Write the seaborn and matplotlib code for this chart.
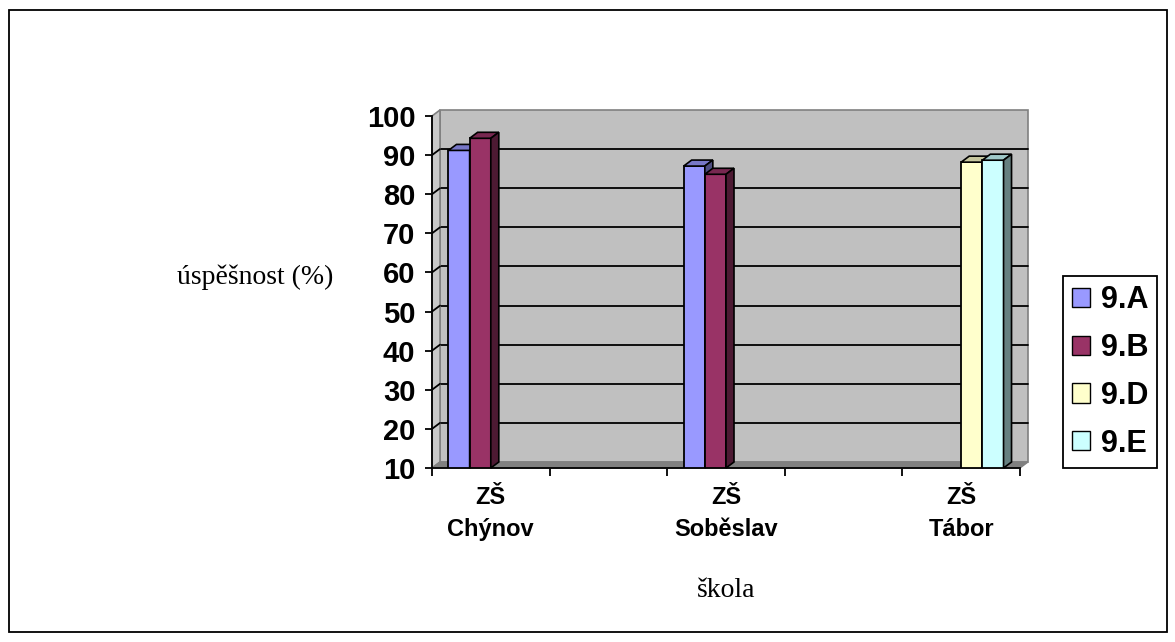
import numpy as np
import pandas as pd
import matplotlib
matplotlib.use("Agg")
import matplotlib.pyplot as plt
import seaborn as sns
from matplotlib.patches import Polygon, Rectangle, Patch
from matplotlib.colors import to_rgb

# ---------------- data ----------------
skoly = ["ZŠ\nChýnov", "", "ZŠ\nSoběslav", " ", "ZŠ\nTábor"]
tridy = ["9.A", "9.B", "9.D", "9.E"]
hodnoty_9A = [91.2, None, 87.2, None, None]
hodnoty_9B = [94.3, None, 85.1, None, None]
hodnoty_9D = [None, None, None, None, 88.2]
hodnoty_9E = [None, None, None, None, 88.7]
barvy = ["#9999FF", "#993366", "#FFFFCC", "#CCFFFF"]
y_ticks = [10, 20, 30, 40, 50, 60, 70, 80, 90, 100]

rows = []
for trida, vals in zip(tridy, [hodnoty_9A, hodnoty_9B, hodnoty_9D, hodnoty_9E]):
    for skola, v in zip(skoly, vals):
        if v is not None:
            rows.append({"skola": skola, "trida": trida, "uspesnost": v})
df = pd.DataFrame(rows)

sns.set_theme(style="white")
plt.rcParams["font.family"] = ["Liberation Sans", "DejaVu Sans"]
for k in ["text.color", "axes.labelcolor", "xtick.color", "ytick.color"]:
    plt.rcParams[k] = "black"

W, H = 1175, 642
fig = plt.figure(figsize=(W / 100, H / 100), dpi=100)
fig.patch.set_facecolor("white")
ax = fig.add_axes([432 / W, 1 - 468 / H, 588 / W, 352 / H])
ax.set_facecolor("none")

sns.barplot(data=df, x="skola", y="uspesnost", hue="trida", order=skoly,
            hue_order=tridy, palette=dict(zip(tridy, barvy)), width=0.72,
            saturation=1, edgecolor="black", linewidth=1.3, errorbar=None,
            legend=False, ax=ax)
bars = [p for p in ax.patches if np.isfinite(p.get_height()) and p.get_height() > 0]

ax.set_xlim(-0.5, 4.5)
ax.set_ylim(10, 100)

# 3D depth offsets (pixels -> data units)
pos = ax.get_position()
dx_px, dy_px = 8, 6
dxd = dx_px / (pos.width * W / 5.0)
dyd = dy_px / (pos.height * H / 90.0)

# back wall
ax.add_patch(Rectangle((-0.5 + dxd, 10 + dyd), 5, 90, fc="#C0C0C0", ec="#808080",
                       lw=1.2, zorder=0, clip_on=False))
for v in y_ticks[1:-1]:
    ax.plot([-0.5 + dxd, 4.5 + dxd], [v + dyd, v + dyd], color="black", lw=1.3,
            zorder=0.5, clip_on=False)
# left wall
ax.add_patch(Polygon([(-0.5, 10), (-0.5, 100), (-0.5 + dxd, 100 + dyd), (-0.5 + dxd, 10 + dyd)],
                     closed=True, fc="#C8C8C8", ec="#808080", lw=1.2, zorder=0.6, clip_on=False))
for v in y_ticks[1:-1]:
    ax.plot([-0.5, -0.5 + dxd], [v, v + dyd], color="black", lw=1.3, zorder=0.7, clip_on=False)
# floor
ax.add_patch(Polygon([(-0.5, 10), (4.5, 10), (4.5 + dxd, 10 + dyd), (-0.5 + dxd, 10 + dyd)],
                     closed=True, fc="#808080", ec="#808080", lw=1.0, zorder=0.8, clip_on=False))

# 3D faces of bars
bars = sorted(bars, key=lambda p: p.get_x())
for i, p in enumerate(bars):
    x0 = p.get_x()
    x1 = x0 + p.get_width()
    h = p.get_height()
    c = np.array(to_rgb(p.get_facecolor()))
    p.set_zorder(5 + 2 * i)
    top = Polygon([(x0, h), (x1, h), (x1 + dxd, h + dyd), (x0 + dxd, h + dyd)], closed=True,
                  fc=c * 0.78, ec="black", lw=1.2, zorder=6 + 2 * i, clip_on=False)
    side = Polygon([(x1, 10), (x1, h), (x1 + dxd, h + dyd), (x1 + dxd, 10 + dyd)], closed=True,
                   fc=c * 0.5, ec="black", lw=1.2, zorder=6 + 2 * i, clip_on=False)
    ax.add_patch(top)
    ax.add_patch(side)

# axes styling
for s in ["top", "right"]:
    ax.spines[s].set_visible(False)
for s in ["left", "bottom"]:
    ax.spines[s].set_color("black")
    ax.spines[s].set_linewidth(1.3)
    ax.spines[s].set_zorder(20)

ax.set_xticks(np.arange(-0.5, 5.0, 1.0))
ax.set_xticklabels([""] * 6)
ax.set_xticks(np.arange(5), minor=True)
ax.set_xticklabels(skoly, minor=True, fontsize=17, fontweight="bold", linespacing=1.5)
ax.tick_params(axis="x", which="major", length=6, width=1.3, color="black", direction="out", bottom=True)
ax.tick_params(axis="x", which="minor", length=0, pad=13, bottom=True)

ax.set_yticks(y_ticks)
ax.set_yticklabels([str(v) for v in y_ticks], fontsize=21, fontweight="bold")
ax.tick_params(axis="y", which="major", length=5, width=1.3, color="black", direction="out", pad=7, left=True)

ax.set_ylabel("úspěšnost (%)", rotation=0, fontsize=20, family="Liberation Serif",
              ha="center", va="center")
ax.yaxis.set_label_coords(-0.301, 0.5426)
ax.set_xlabel("škola", fontsize=20, family="Liberation Serif", va="center")
ax.xaxis.set_label_coords(0.5, -0.347)

handles = [Patch(fc=c, ec="black", lw=1.0) for c in barvy]
leg = fig.legend(handles, tridy, loc="center", bbox_to_anchor=(0.9447, 0.4206),
                 frameon=True, fancybox=False, edgecolor="black", framealpha=1,
                 prop={"weight": "bold", "size": 22, "family": "Liberation Sans"},
                 handlelength=0.6, handleheight=0.6, labelspacing=0.58,
                 handletextpad=0.35, borderpad=0.3, borderaxespad=0)
leg.get_frame().set_linewidth(1.3)

fig.patches.append(Rectangle((9 / W, 10 / H), 1158 / W, 622 / H, transform=fig.transFigure,
                             fill=False, ec="black", lw=1.3))

fig.savefig("out.png", dpi=100)
